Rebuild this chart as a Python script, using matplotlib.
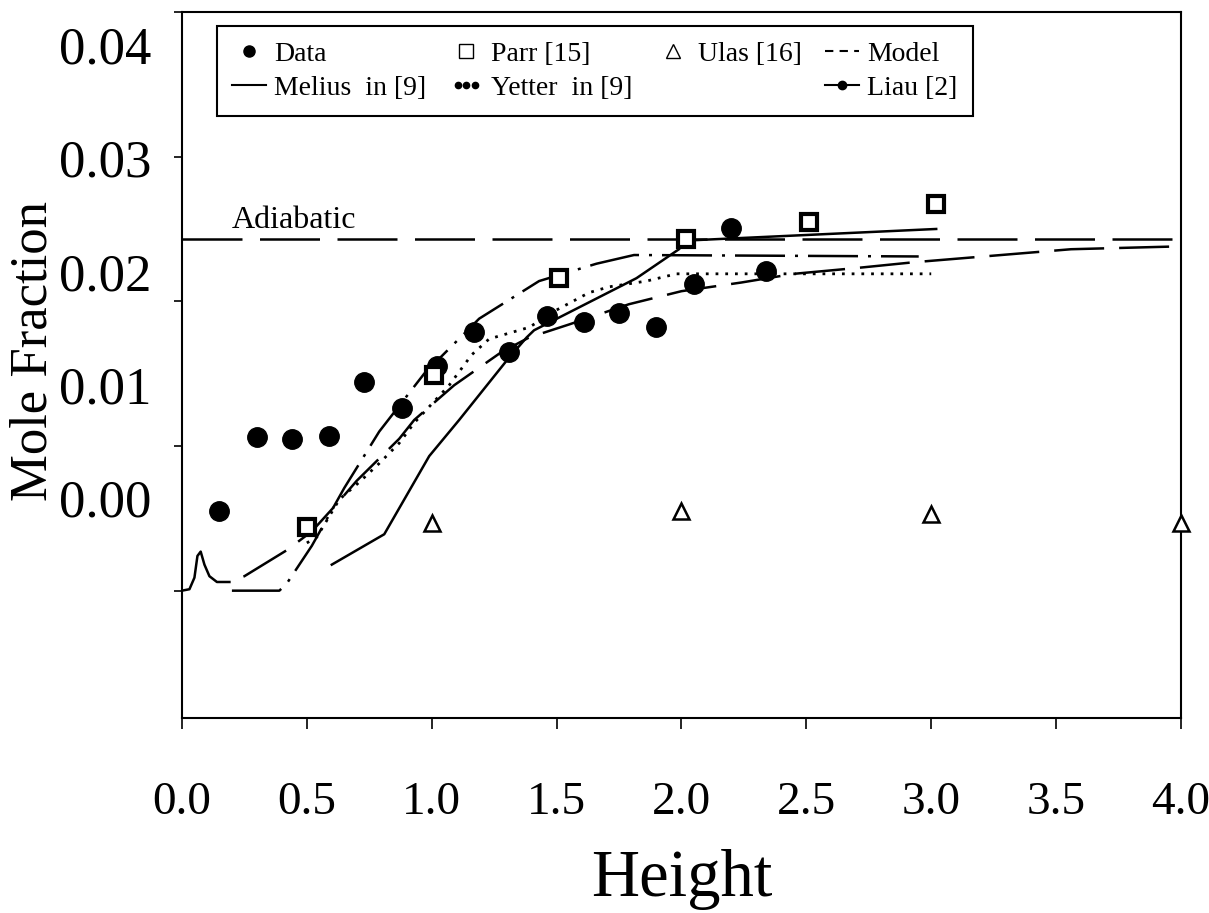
"""Mole fraction vs height: measured data, literature points and model curves."""
import matplotlib

matplotlib.use("Agg")
import matplotlib.pyplot as plt  # noqa: E402
from matplotlib.legend_handler import HandlerLine2D  # noqa: E402
from matplotlib.lines import Line2D  # noqa: E402

plt.rcParams["font.family"] = ["Liberation Serif", "DejaVu Serif"]

# measured points
data_x = [0.15, 0.30, 0.44, 0.59, 0.73, 0.88, 1.02, 1.17, 1.31, 1.46, 1.61, 1.75, 1.90, 2.05, 2.20, 2.34]
data_y = [0.0055, 0.0106, 0.0105, 0.0107, 0.0144, 0.0126, 0.0155, 0.0179, 0.0165, 0.0190,
          0.0186, 0.0192, 0.0182, 0.0212, 0.0251, 0.0221]

parr_x = [0.50, 1.01, 1.51, 2.02, 2.51, 3.02]
parr_y = [0.0044, 0.0149, 0.0216, 0.0243, 0.0255, 0.0267]

ulas_x = [1.0, 2.0, 3.0, 4.0]
ulas_y = [0.0047, 0.0055, 0.0053, 0.0047]

# curves
model_x = [0.0, 0.03, 0.05, 0.062, 0.075, 0.09, 0.11, 0.14, 0.19, 0.25, 0.42, 0.52, 0.62, 0.70,
           0.87, 0.93, 1.09, 1.28, 1.39, 1.55, 1.79, 2.00, 2.24, 2.45, 2.70, 2.93, 3.35, 3.56, 4.0]
model_y = [0.0, 0.0001, 0.0009, 0.0024, 0.0027, 0.0018, 0.0010, 0.0006, 0.0006, 0.0010, 0.0028,
           0.0041, 0.0060, 0.0076, 0.0105, 0.0118, 0.0142, 0.0165, 0.0175, 0.0184, 0.0198,
           0.0207, 0.0213, 0.0219, 0.0223, 0.0227, 0.0233, 0.0236, 0.0238]
model_spike = 9  # first dash of the model line covers the ignition spike

melius_x = [0.60, 0.81, 0.99, 1.11, 1.30, 1.38, 1.41, 1.82, 1.99, 2.02, 3.02]
melius_y = [0.0018, 0.0039, 0.0093, 0.0118, 0.0159, 0.0175, 0.0180, 0.0216, 0.0236, 0.0242, 0.0250]

yetter_x = [0.50, 0.54, 0.63, 0.71, 0.79, 0.87, 0.93, 1.07, 1.16, 1.23, 1.31, 1.39, 1.50,
            1.63, 1.71, 1.86, 1.98, 3.0]
yetter_y = [0.0033, 0.0037, 0.0063, 0.0075, 0.0088, 0.0102, 0.0116, 0.0142, 0.0163, 0.0174,
            0.0178, 0.0182, 0.0194, 0.0206, 0.0210, 0.0214, 0.0219, 0.0219]

liau_x = [0.20, 0.39, 0.42, 0.52, 0.65, 0.79, 0.97, 1.19, 1.43, 1.66, 1.81, 2.95]
liau_y = [0.0, 0.0, 0.0005, 0.0031, 0.0071, 0.0110, 0.0150, 0.0188, 0.0214, 0.0226, 0.0232, 0.0231]

adiabatic_x = [0.0, 4.0]
adiabatic_y = [0.0243, 0.0243]

x_ticks = [0.0, 0.5, 1.0, 1.5, 2.0, 2.5, 3.0, 3.5, 4.0]
y_ticks = [0.0, 0.01, 0.02, 0.03, 0.04]

# the printed y labels sit on a compressed scale relative to the tick marks
LABEL_OFFSET, LABEL_SCALE = 0.0064, 0.783

fig = plt.figure(figsize=(12.09, 9.13), dpi=100)
ax = fig.add_axes([0.1505, 0.2136, 0.8263, 0.7733])

ax.plot(adiabatic_x, adiabatic_y, color="black", lw=1.8, dashes=(24, 7))
ax.plot(model_x[:model_spike], model_y[:model_spike], color="black", lw=1.8)
ax.plot(model_x[model_spike - 1:], model_y[model_spike - 1:], color="black", lw=1.8,
        linestyle=(20, (20, 6)))
ax.plot(melius_x, melius_y, color="black", lw=1.8)
ax.plot(yetter_x, yetter_y, color="black", lw=2.0, dashes=(1, 2.5))
ax.plot(liau_x, liau_y, color="black", lw=1.8, dashes=(20, 4, 1.2, 4))

ax.plot(data_x, data_y, "o", color="black", ms=14, zorder=5)
ax.plot(parr_x, parr_y, "s", mfc="white", mec="black", ms=11, mew=3, zorder=5)
ax.plot(ulas_x, ulas_y, "^", mfc="white", mec="black", ms=12, mew=1.8, zorder=5, clip_on=False)

ax.text(0.2, 0.0251, "Adiabatic", fontsize=23, va="baseline")

ax.set_xlim(0, 4)
ax.set_ylim(-0.0088, 0.04)
ax.set_xticks(x_ticks)
ax.set_xticklabels([f"{t:.1f}" for t in x_ticks])
ax.tick_params(axis="x", direction="out", length=8, width=1.2, labelsize=34, pad=38)
ax.set_yticks(y_ticks)
ax.set_yticklabels([])
ax.tick_params(axis="y", direction="out", length=6, width=1.2)
for sp in ax.spines.values():
    sp.set_linewidth(1.5)

lab = ax.secondary_yaxis("left", functions=(lambda d: (d - LABEL_OFFSET) / LABEL_SCALE,
                                            lambda v: LABEL_OFFSET + LABEL_SCALE * v))
lab.set_yticks(y_ticks)
lab.set_yticklabels([f"{t:.2f}" for t in y_ticks])
lab.tick_params(length=0, labelsize=38, pad=22)
lab.spines["left"].set_visible(False)

ax.set_xlabel("Height", fontsize=48, labelpad=18)
ax.set_ylabel("Mole Fraction", fontsize=38)
ax.yaxis.set_label_coords(-0.125, 0.52)

handles = [
    Line2D([], [], ls="none", marker="o", color="black", ms=8),
    Line2D([], [], color="black", lw=1.5),
    Line2D([], [], ls="none", marker="s", mfc="white", mec="black", ms=10, mew=1),
    Line2D([], [], ls="none", marker="o", color="black", ms=4.5),
    Line2D([], [], ls="none", marker="^", mfc="white", mec="black", ms=10, mew=1),
    Line2D([], [], ls="none"),
    Line2D([], [], color="black", lw=1.5, dashes=(4, 3)),
    Line2D([], [], color="black", lw=1.5, marker="o", ms=6),
]
labels = ["Data", "Melius  in [9]", "Parr [15]", "Yetter  in [9]", "Ulas [16]", "",
          "Model", "Liau [2]"]
leg = ax.legend(handles, labels, ncol=4, loc="upper left", bbox_to_anchor=(0.035, 0.98),
                borderaxespad=0, fontsize=20, frameon=True, fancybox=False,
                edgecolor="black", framealpha=1, borderpad=0.55, labelspacing=0.3,
                handlelength=1.2, handletextpad=0.3, columnspacing=0.85,
                handler_map={handles[3]: HandlerLine2D(numpoints=3)})
leg.get_frame().set_linewidth(1.5)

fig.savefig("out.png", dpi=100)
